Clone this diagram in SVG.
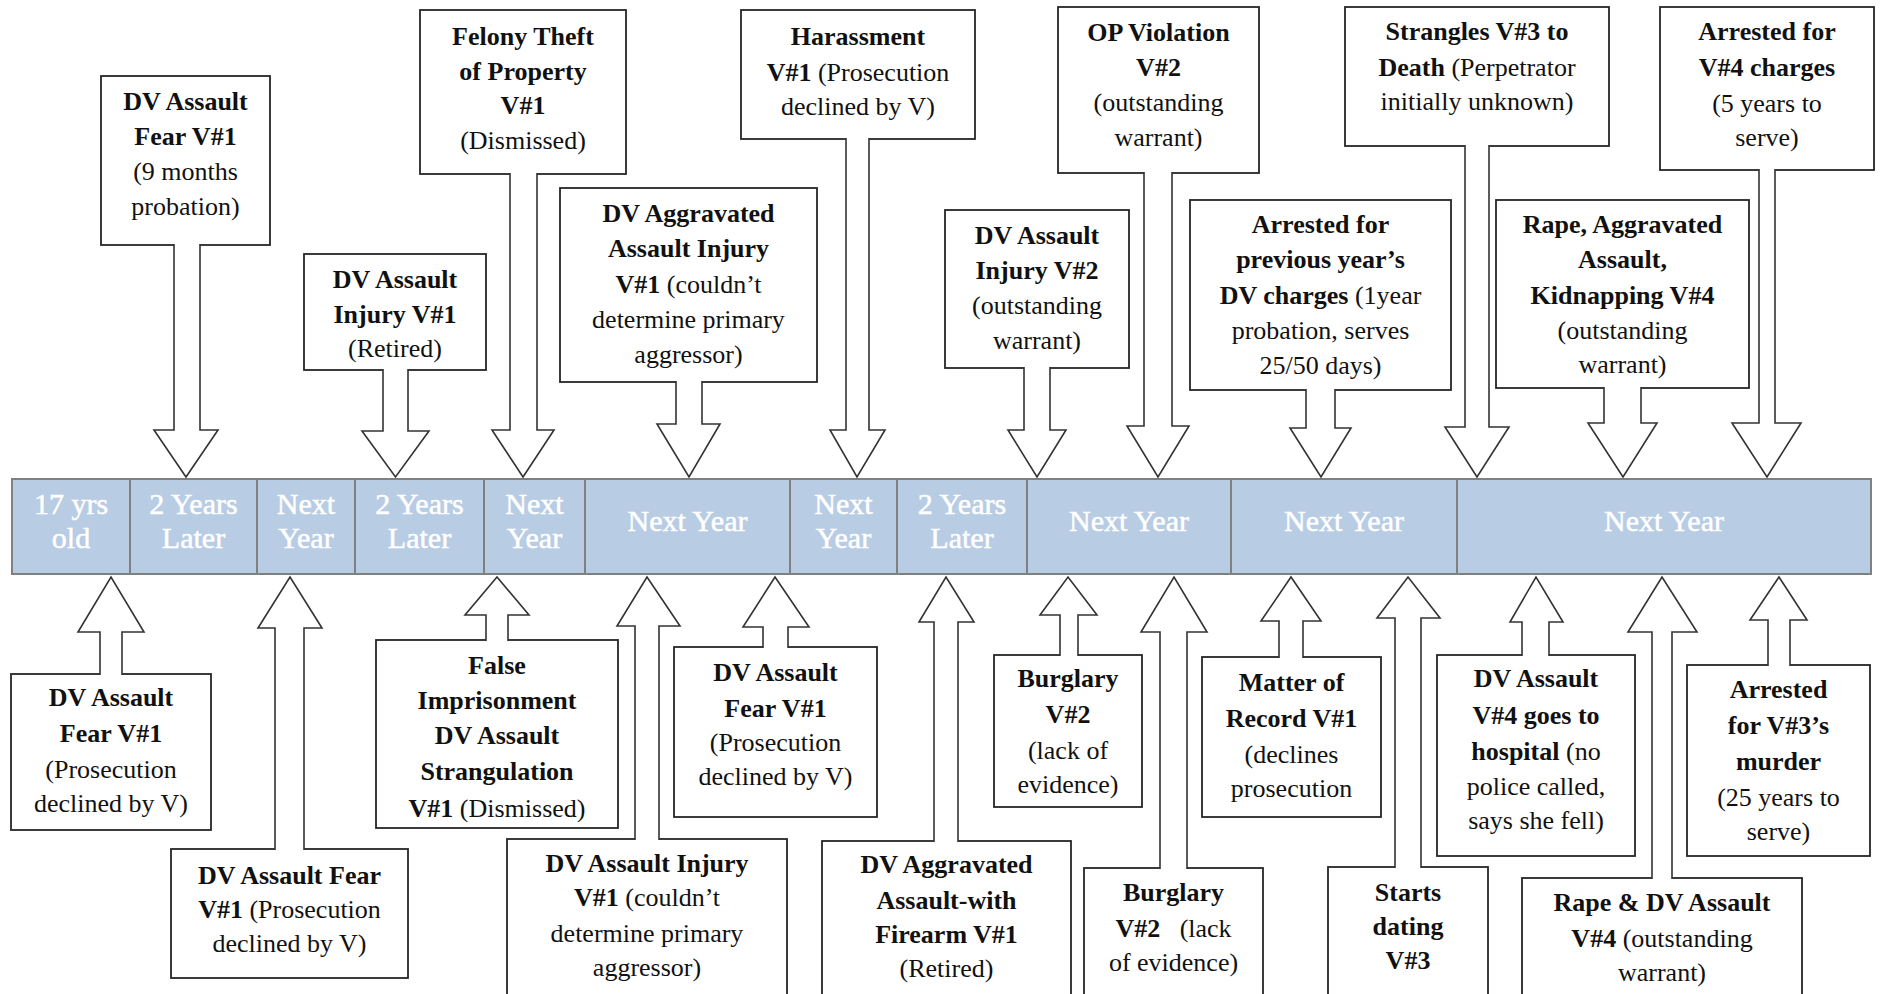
<svg xmlns="http://www.w3.org/2000/svg" width="1883" height="994" viewBox="0 0 1883 994">
<style>
.bx{fill:#fff;stroke:#262626;stroke-width:1.8}
.ar{fill:#fff;stroke:#333;stroke-width:1.6;stroke-linejoin:miter}
.t{font-family:"Liberation Serif","Times New Roman",serif;font-size:26px;fill:#111;text-anchor:middle}
.b{font-weight:bold}
.cell{fill:#b8cce4;stroke:#808080;stroke-width:2}
.bt{font-family:"Liberation Serif","Times New Roman",serif;font-size:30px;fill:#fff;stroke:#fff;stroke-width:0.5;text-anchor:middle}
</style>
<defs>
<clipPath id="clipB3"><rect x="376" y="640" width="242" height="182"/></clipPath>
</defs>
<rect width="1883" height="994" fill="#fff"/>

<g id="timeline">
<rect class="cell" x="12" y="479" width="118" height="95"/>
<rect class="cell" x="130" y="479" width="127" height="95"/>
<rect class="cell" x="257" y="479" width="98" height="95"/>
<rect class="cell" x="355" y="479" width="129" height="95"/>
<rect class="cell" x="484" y="479" width="101" height="95"/>
<rect class="cell" x="585" y="479" width="205" height="95"/>
<rect class="cell" x="790" y="479" width="107" height="95"/>
<rect class="cell" x="897" y="479" width="130" height="95"/>
<rect class="cell" x="1027" y="479" width="204" height="95"/>
<rect class="cell" x="1231" y="479" width="226" height="95"/>
<rect class="cell" x="1457" y="479" width="414" height="95"/>
<text class="bt" x="71" y="514">17 yrs</text><text class="bt" x="71" y="548">old</text>
<text class="bt" x="193.5" y="514">2 Years</text><text class="bt" x="193.5" y="548">Later</text>
<text class="bt" x="306" y="514">Next</text><text class="bt" x="306" y="548">Year</text>
<text class="bt" x="419.5" y="514">2 Years</text><text class="bt" x="419.5" y="548">Later</text>
<text class="bt" x="534.5" y="514">Next</text><text class="bt" x="534.5" y="548">Year</text>
<text class="bt" x="687.5" y="531">Next Year</text>
<text class="bt" x="843.5" y="514">Next</text><text class="bt" x="843.5" y="548">Year</text>
<text class="bt" x="962" y="514">2 Years</text><text class="bt" x="962" y="548">Later</text>
<text class="bt" x="1129" y="531">Next Year</text>
<text class="bt" x="1344" y="531">Next Year</text>
<text class="bt" x="1664" y="531">Next Year</text>
</g>

<g id="t1"><rect class="bx" x="101" y="76" width="169" height="169"/>
<text class="t" x="185.5" y="110"><tspan class="b">DV Assault</tspan><tspan class="b" x="185.5" dy="35">Fear V#1</tspan><tspan x="185.5" dy="35">(9 months</tspan><tspan x="185.5" dy="35">probation)</tspan></text></g>

<g id="t2"><rect class="bx" x="304" y="254" width="182" height="116"/>
<text class="t" x="395" y="288"><tspan class="b">DV Assault</tspan><tspan class="b" x="395" dy="35">Injury V#1</tspan><tspan x="395" dy="34">(Retired)</tspan></text></g>

<g id="t3"><rect class="bx" x="420" y="10" width="206" height="164"/>
<text class="t" x="523" y="45"><tspan class="b">Felony Theft</tspan><tspan class="b" x="523" dy="35">of Property</tspan><tspan class="b" x="523" dy="34">V#1</tspan><tspan x="523" dy="35">(Dismissed)</tspan></text></g>

<g id="t4"><rect class="bx" x="560" y="188" width="257" height="194"/>
<text class="t" x="688.5" y="222"><tspan class="b">DV Aggravated</tspan><tspan class="b" x="688.5" dy="35">Assault Injury</tspan><tspan x="688.5" dy="36"><tspan class="b">V#1</tspan> (couldn’t</tspan><tspan x="688.5" dy="35">determine primary</tspan><tspan x="688.5" dy="35">aggressor)</tspan></text></g>

<g id="t5"><rect class="bx" x="741" y="10" width="234" height="129"/>
<text class="t" x="858" y="45"><tspan class="b">Harassment</tspan><tspan x="858" dy="36"><tspan class="b">V#1</tspan> (Prosecution</tspan><tspan x="858" dy="34">declined by V)</tspan></text></g>

<g id="t6"><rect class="bx" x="945" y="210" width="184" height="158"/>
<text class="t" x="1037" y="244"><tspan class="b">DV Assault</tspan><tspan class="b" x="1037" dy="35">Injury V#2</tspan><tspan x="1037" dy="35">(outstanding</tspan><tspan x="1037" dy="35">warrant)</tspan></text></g>

<g id="t7"><rect class="bx" x="1058" y="7" width="201" height="166"/>
<text class="t" x="1158.5" y="41"><tspan class="b">OP Violation</tspan><tspan class="b" x="1158.5" dy="35">V#2</tspan><tspan x="1158.5" dy="35">(outstanding</tspan><tspan x="1158.5" dy="35">warrant)</tspan></text></g>

<g id="t8"><rect class="bx" x="1190" y="200" width="261" height="190"/>
<text class="t" x="1320.5" y="233"><tspan class="b">Arrested for</tspan><tspan class="b" x="1320.5" dy="35">previous year’s</tspan><tspan x="1320.5" dy="36"><tspan class="b">DV charges</tspan> (1year</tspan><tspan x="1320.5" dy="35">probation, serves</tspan><tspan x="1320.5" dy="35">25/50 days)</tspan></text></g>

<g id="t9"><rect class="bx" x="1345" y="7" width="264" height="139"/>
<text class="t" x="1477" y="40"><tspan class="b">Strangles V#3 to</tspan><tspan x="1477" dy="36"><tspan class="b">Death</tspan> (Perpetrator</tspan><tspan x="1477" dy="34">initially unknown)</tspan></text></g>

<g id="t10"><rect class="bx" x="1496" y="200" width="253" height="188"/>
<text class="t" x="1622.5" y="233"><tspan class="b">Rape, Aggravated</tspan><tspan class="b" x="1622.5" dy="35">Assault,</tspan><tspan class="b" x="1622.5" dy="36">Kidnapping V#4</tspan><tspan x="1622.5" dy="35">(outstanding</tspan><tspan x="1622.5" dy="34">warrant)</tspan></text></g>

<g id="t11"><rect class="bx" x="1660" y="7" width="214" height="163"/>
<text class="t" x="1767" y="40"><tspan class="b">Arrested for</tspan><tspan class="b" x="1767" dy="36">V#4 charges</tspan><tspan x="1767" dy="36">(5 years to</tspan><tspan x="1767" dy="34">serve)</tspan></text></g>

<g id="b1"><rect class="bx" x="11" y="674" width="200" height="156"/>
<text class="t" x="111" y="706"><tspan class="b">DV Assault</tspan><tspan class="b" x="111" dy="36">Fear V#1</tspan><tspan x="111" dy="36">(Prosecution</tspan><tspan x="111" dy="34">declined by V)</tspan></text></g>

<g id="b2"><rect class="bx" x="171" y="849" width="237" height="129"/>
<text class="t" x="289.5" y="884"><tspan class="b">DV Assault Fear</tspan><tspan x="289.5" dy="34"><tspan class="b">V#1</tspan> (Prosecution</tspan><tspan x="289.5" dy="34">declined by V)</tspan></text></g>

<g id="b3"><rect class="bx" x="376" y="640" width="242" height="188"/>
<text class="t" x="497" y="674" clip-path="url(#clipB3)"><tspan class="b">False</tspan><tspan class="b" x="497" dy="35">Imprisonment</tspan><tspan class="b" x="497" dy="35">DV Assault</tspan><tspan class="b" x="497" dy="36">Strangulation</tspan><tspan x="497" dy="37"><tspan class="b">V#1</tspan> (Dismissed)</tspan></text></g>

<g id="b4"><rect class="bx" x="507" y="839" width="280" height="160"/>
<text class="t" x="647" y="872"><tspan class="b">DV Assault Injury</tspan><tspan x="647" dy="34"><tspan class="b">V#1</tspan> (couldn’t</tspan><tspan x="647" dy="36">determine primary</tspan><tspan x="647" dy="34">aggressor)</tspan></text></g>

<g id="b5"><rect class="bx" x="674" y="647" width="203" height="170"/>
<text class="t" x="775.5" y="681"><tspan class="b">DV Assault</tspan><tspan class="b" x="775.5" dy="36">Fear V#1</tspan><tspan x="775.5" dy="34">(Prosecution</tspan><tspan x="775.5" dy="34">declined by V)</tspan></text></g>

<g id="b6"><rect class="bx" x="822" y="841" width="249" height="160"/>
<text class="t" x="946.5" y="873"><tspan class="b">DV Aggravated</tspan><tspan class="b" x="946.5" dy="36">Assault-with</tspan><tspan class="b" x="946.5" dy="34">Firearm V#1</tspan><tspan x="946.5" dy="34">(Retired)</tspan></text></g>

<g id="b7"><rect class="bx" x="994" y="655" width="148" height="152"/>
<text class="t" x="1068" y="687"><tspan class="b">Burglary</tspan><tspan class="b" x="1068" dy="36">V#2</tspan><tspan x="1068" dy="36">(lack of</tspan><tspan x="1068" dy="34">evidence)</tspan></text></g>

<g id="b8"><rect class="bx" x="1084" y="868" width="179" height="133"/>
<text class="t" x="1173.5" y="901"><tspan class="b">Burglary</tspan><tspan x="1173.5" dy="36" xml:space="preserve"><tspan class="b">V#2</tspan>   (lack</tspan><tspan x="1173.5" dy="34">of evidence)</tspan></text></g>

<g id="b9"><rect class="bx" x="1202" y="657" width="179" height="160"/>
<text class="t" x="1291.5" y="691"><tspan class="b">Matter of</tspan><tspan class="b" x="1291.5" dy="36">Record V#1</tspan><tspan x="1291.5" dy="36">(declines</tspan><tspan x="1291.5" dy="34">prosecution</tspan></text></g>

<g id="b10"><rect class="bx" x="1328" y="867" width="160" height="134"/>
<text class="t b" x="1408" y="901"><tspan>Starts</tspan><tspan x="1408" dy="34">dating</tspan><tspan x="1408" dy="34">V#3</tspan></text></g>

<g id="b11"><rect class="bx" x="1437" y="655" width="198" height="201"/>
<text class="t" x="1536" y="687"><tspan class="b">DV Assault</tspan><tspan class="b" x="1536" dy="37">V#4 goes to</tspan><tspan x="1536" dy="36"><tspan class="b">hospital</tspan> (no</tspan><tspan x="1536" dy="35">police called,</tspan><tspan x="1536" dy="34">says she fell)</tspan></text></g>

<g id="b12"><rect class="bx" x="1522" y="878" width="280" height="123"/>
<text class="t" x="1662" y="911"><tspan class="b">Rape &amp; DV Assault</tspan><tspan x="1662" dy="36"><tspan class="b">V#4</tspan> (outstanding</tspan><tspan x="1662" dy="34">warrant)</tspan></text></g>

<g id="b13"><rect class="bx" x="1687" y="665" width="183" height="191"/>
<text class="t" x="1778.5" y="698"><tspan class="b">Arrested</tspan><tspan class="b" x="1778.5" dy="36">for V#3’s</tspan><tspan class="b" x="1778.5" dy="36">murder</tspan><tspan x="1778.5" dy="36">(25 years to</tspan><tspan x="1778.5" dy="34">serve)</tspan></text></g>

<g id="connectors">
<path class="ar" d="M174 244V430H154L186 477L218 430H200V244"/>
<path class="ar" d="M383 369V431H362L395.5 477L429 431H408V369"/>
<path class="ar" d="M510 173V430H492L523 477L554 430H537V173"/>
<path class="ar" d="M676 381V424H657L689 477L720 424H702V381"/>
<path class="ar" d="M846 138V430H830L857 477L885 430H869V138"/>
<path class="ar" d="M1024 367V430H1008L1037 477L1066 430H1050V367"/>
<path class="ar" d="M1144 172V426H1127L1158 477L1189 426H1172V172"/>
<path class="ar" d="M1306 389V428H1290L1321 477L1351 428H1335V389"/>
<path class="ar" d="M1465 145V427H1445L1477 477L1509 427H1489V145"/>
<path class="ar" d="M1604 387V423H1588L1623 477L1657 423H1641V387"/>
<path class="ar" d="M1759 169V423H1732L1767 477L1801 423H1775V169"/>

<path class="ar" d="M100 675V632H78L111 577L144 632H122V675"/>
<path class="ar" d="M275 850V628H258L290 577L322 628H304V850"/>
<path class="ar" d="M486 641V615H465L497 577L529 615H508V641"/>
<path class="ar" d="M635 840V626H617L647 577L680 626H659V840"/>
<path class="ar" d="M763 648V627H743L775 577L809 627H788V648"/>
<path class="ar" d="M934 842V622H919L946 577L974 622H958V842"/>
<path class="ar" d="M1060 656V615H1040L1068 577L1097 615H1078V656"/>
<path class="ar" d="M1160 869V632H1141L1174 577L1207 632H1187V869"/>
<path class="ar" d="M1279 658V621H1261L1291 577L1321 621H1303V658"/>
<path class="ar" d="M1395 868V618H1377L1408 577L1440 618H1421V868"/>
<path class="ar" d="M1522 656V622H1510L1536 577L1563 622H1549V656"/>
<path class="ar" d="M1652 879V632H1628L1662 577L1697 632H1672V879"/>
<path class="ar" d="M1768 666V620H1750L1779 577L1807 620H1790V666"/>
</g>
</svg>
